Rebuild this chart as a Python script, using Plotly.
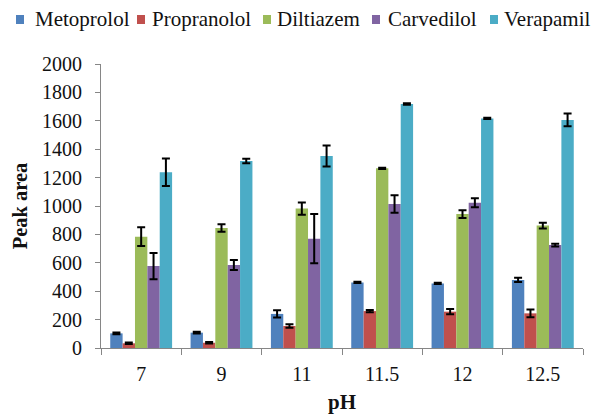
import plotly.graph_objects as go

ph_labels = ["7", "9", "11", "11.5", "12", "12.5"]
series_names = ["Metoprolol", "Propranolol", "Diltiazem", "Carvedilol", "Verapamil"]

metoprolol = [103, 108, 240, 462, 455, 479]
metoprolol_err = [6, 6, 26, 4, 4, 15]
propranolol = [33, 37, 155, 260, 256, 244]
propranolol_err = [5, 5, 12, 8, 18, 28]
diltiazem = [784, 845, 982, 1265, 943, 862]
diltiazem_err = [66, 27, 43, 5, 27, 20]
carvedilol = [577, 584, 770, 1014, 1023, 725]
carvedilol_err = [92, 35, 174, 62, 32, 10]
verapamil = [1237, 1317, 1352, 1718, 1617, 1606]
verapamil_err = [97, 16, 74, 5, 5, 45]

series_values = [metoprolol, propranolol, diltiazem, carvedilol, verapamil]
series_errors = [metoprolol_err, propranolol_err, diltiazem_err, carvedilol_err, verapamil_err]
colors = ["#4F81BD", "#C0504D", "#9BBB59", "#8064A2", "#4BACC6"]

FONT = '"Liberation Serif", "Times New Roman", serif'
TXT = "#111111"

fig = go.Figure()
for name, vals, errs, col in zip(series_names, series_values, series_errors, colors):
    fig.add_trace(go.Bar(
        x=ph_labels, y=vals, name=name,
        marker=dict(color=col, line=dict(width=0)),
        error_y=dict(type="data", array=errs, visible=True, color="black", thickness=2, width=4),
        showlegend=False,
    ))

# Manual legend (Excel style: small square + text), positions in pixels
W, H = 482, 284
L_PIX, B_PIX = 101, 348
legend_square_x = [16, 137, 263, 372, 490]
legend_text_x = [33, 150, 275, 386, 502]
legend_y_pix = 19
shapes = []
annotations = []
for name, col, sx, tx in zip(series_names, colors, legend_square_x, legend_text_x):
    shapes.append(dict(type="rect", xref="paper", yref="paper",
                       x0=(sx - L_PIX) / W, x1=(sx + 8 - L_PIX) / W,
                       y0=(B_PIX - 24) / H, y1=(B_PIX - 15) / H,
                       fillcolor=col, line=dict(width=0)))
    annotations.append(dict(text=name, xref="paper", yref="paper",
                            x=(tx - L_PIX) / W, y=(B_PIX - legend_y_pix) / H,
                            xanchor="left", yanchor="middle", showarrow=False,
                            font=dict(family=FONT, size=21, color=TXT)))

fig.update_layout(
    width=596, height=414,
    margin=dict(l=101, r=13, t=64, b=66, autoexpand=False),
    paper_bgcolor="white", plot_bgcolor="white",
    barmode="group", bargap=0.23, bargroupgap=0,
    font=dict(family=FONT, size=20, color=TXT),
    shapes=shapes, annotations=annotations,
    showlegend=False,
)
fig.update_yaxes(
    range=[0, 2000], dtick=200, showgrid=False, zeroline=False, automargin=False,
    showline=True, linecolor="#868686", linewidth=1,
    ticks="outside", ticklen=5, tickcolor="#868686", ticklabelstandoff=9,
    tickfont=dict(family=FONT, size=20, color=TXT),
    title=dict(text="<b>Peak area</b>", font=dict(family=FONT, size=20.5, color=TXT), standoff=8),
)
fig.update_xaxes(
    showgrid=False, showline=True, linecolor="#868686", linewidth=1, automargin=False,
    ticks="outside", ticklen=6, tickcolor="#868686", tickson="boundaries",
    tickfont=dict(family=FONT, size=20, color=TXT), ticklabelstandoff=8,
    title=dict(text="<b>pH</b>", font=dict(family=FONT, size=21, color=TXT), standoff=14),
)

fig.write_html("out.html", config={"displayModeBar": False},
               post_script="document.body.style.margin='0px';")
